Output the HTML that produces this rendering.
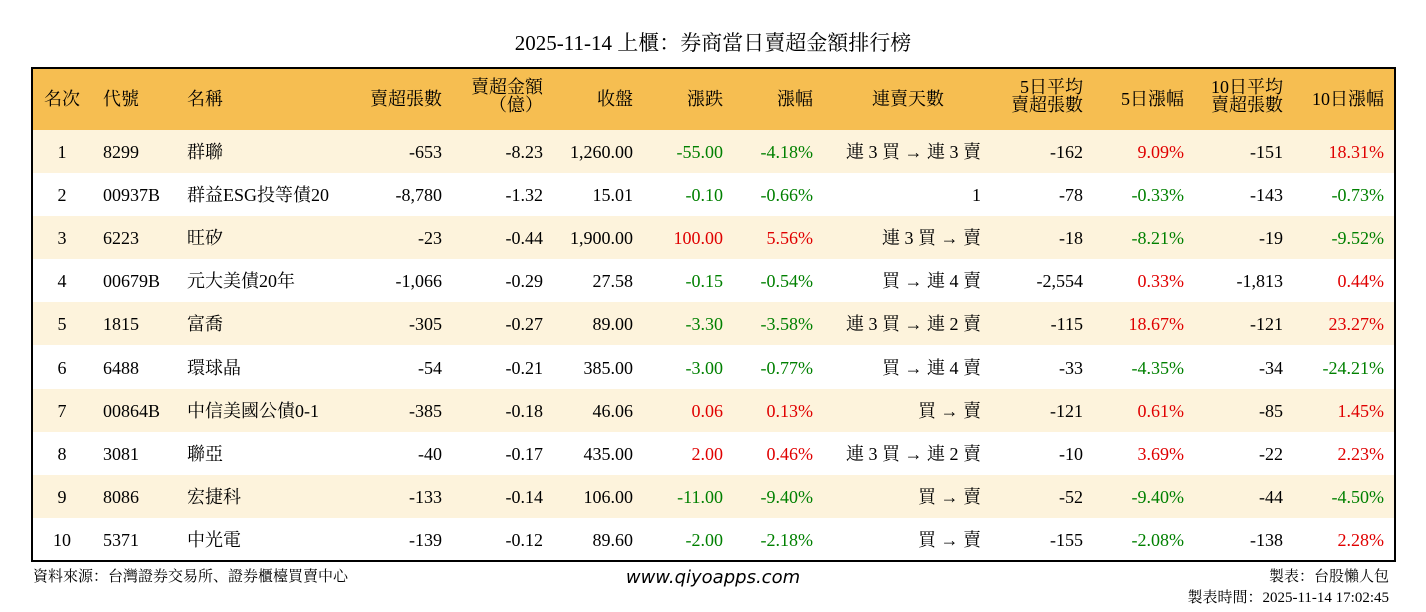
<!DOCTYPE html>
<html><head><meta charset="utf-8"><style>
body{margin:0;width:1426px;height:612px;background:#fff;position:relative;overflow:hidden;font-family:"Liberation Serif","Noto Serif CJK SC",serif;color:#000}
.t{position:absolute;white-space:nowrap;font-size:18px;line-height:20px}
.r{text-align:right}
.c{text-align:center}
.g{color:#008000}.d{color:#e00000}
#tbl{position:absolute;left:31px;top:67px;width:1361px;height:491px;border:2px solid #000}
.row{position:absolute;left:0;width:1361px;height:43px}
</style></head><body>
<div class="t c" style="left:0;width:1426px;top:31px;font-size:21px;line-height:24px">2025-11-14 上櫃：券商當日賣超金額排行榜</div>
<div id="tbl">
<div class="row" style="top:0;height:61px;background:#F6BE51;border-bottom:2px solid #000"></div>
</div>
<div id="rows"></div>
<div class="t" style="left:33px;top:567px;font-size:15px">資料來源：台灣證券交易所、證券櫃檯買賣中心</div>
<div class="t c" style="left:563px;width:300px;top:568px;font-family:'DejaVu Sans',sans-serif;font-style:italic;font-size:18px">www.qiyoapps.com</div>
<div class="t r" style="right:37px;top:567px;font-size:15px">製表：台股懶人包</div>
<div class="t r" style="right:37px;top:588px;font-size:15px">製表時間：2025-11-14 17:02:45</div>
<script>
const H=[["名次",62,"c"],["代號",103,"l"],["名稱",187,"l"],["賣超張數",442,"r"],["賣超金額<br>（億）",543,"r"],["收盤",633,"r"],["漲跌",723,"r"],["漲幅",813,"r"],["連賣天數",908,"c"],["5日平均<br>賣超張數",1083,"r"],["5日漲幅",1184,"r"],["10日平均<br>賣超張數",1283,"r"],["10日漲幅",1384,"r"]];
const D=[
["1","8299","群聯","-653","-8.23","1,260.00","-55.00","-4.18%","連 3 買 → 連 3 賣","-162","9.09%","-151","18.31%"],
["2","00937B","群益ESG投等債20","-8,780","-1.32","15.01","-0.10","-0.66%","1","-78","-0.33%","-143","-0.73%"],
["3","6223","旺矽","-23","-0.44","1,900.00","100.00","5.56%","連 3 買 → 賣","-18","-8.21%","-19","-9.52%"],
["4","00679B","元大美債20年","-1,066","-0.29","27.58","-0.15","-0.54%","買 → 連 4 賣","-2,554","0.33%","-1,813","0.44%"],
["5","1815","富喬","-305","-0.27","89.00","-3.30","-3.58%","連 3 買 → 連 2 賣","-115","18.67%","-121","23.27%"],
["6","6488","環球晶","-54","-0.21","385.00","-3.00","-0.77%","買 → 連 4 賣","-33","-4.35%","-34","-24.21%"],
["7","00864B","中信美國公債0-1","-385","-0.18","46.06","0.06","0.13%","買 → 賣","-121","0.61%","-85","1.45%"],
["8","3081","聯亞","-40","-0.17","435.00","2.00","0.46%","連 3 買 → 連 2 賣","-10","3.69%","-22","2.23%"],
["9","8086","宏捷科","-133","-0.14","106.00","-11.00","-9.40%","買 → 賣","-52","-9.40%","-44","-4.50%"],
["10","5371","中光電","-139","-0.12","89.60","-2.00","-2.18%","買 → 賣","-155","-2.08%","-138","2.28%"]];
let h="";
H.forEach(([s,x,a])=>{const two=s.includes("<br>");const top=two?78:89;const lh=two?'line-height:18px;':'';
if(a=="c")h+=`<div class="t c" style="left:${x-80}px;width:160px;top:${top}px;${lh}">${s}</div>`;
else if(a=="l")h+=`<div class="t" style="left:${x}px;top:${top}px">${s}</div>`;
else h+=`<div class="t r" style="right:${1426-x}px;top:${top}px;${lh}text-align:right">${s}</div>`;});
D.forEach((r,i)=>{const y=130+i*43.1;
if(i%2==0)h+=`<div style="position:absolute;left:33px;width:1361px;top:${y}px;height:43px;background:#FDF3DC"></div>`;
const ty=y+12;
r.forEach((v,j)=>{const [_,x,a]=H[j];let cls="";
if([6,7,10,12].includes(j))cls=v.startsWith("-")?"g":"d";
if(j==0)h+=`<div class="t c" style="left:${x-30}px;width:60px;top:${ty}px">${v}</div>`;
else if(j==1||j==2)h+=`<div class="t" style="left:${x}px;top:${ty}px">${v}</div>`;
else if(j==8)h+=`<div class="t r" style="right:${1426-981}px;top:${ty}px">${v}</div>`;
else h+=`<div class="t r ${cls}" style="right:${1426-x}px;top:${ty}px">${v}</div>`;});});
document.getElementById("rows").innerHTML=h;
</script>
</body></html>
